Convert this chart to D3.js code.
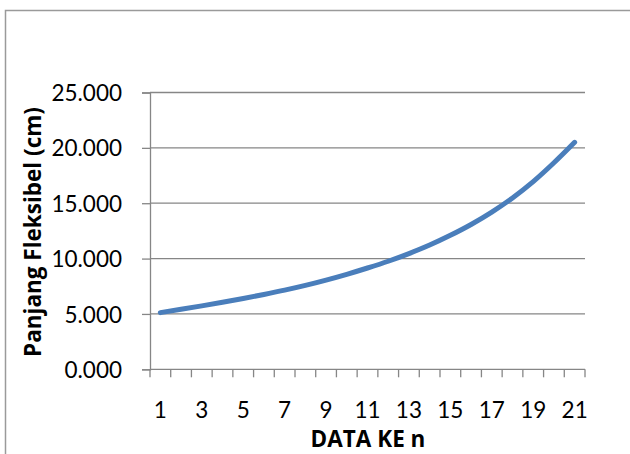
<!DOCTYPE html>
<html>
<head>
<meta charset="utf-8">
<script src="https://cdn.jsdelivr.net/npm/d3@7"></script>
<style>
  html, body { margin: 0; padding: 0; background: #fff; }
  svg { display: block; }
  text { font-family: Lato, "Open Sans", sans-serif; fill: #000; }
  .title { font-family: "Open Sans", Lato, sans-serif; font-weight: bold; font-size: 22.5px; }
</style>
</head>
<body>
<svg id="chart" width="630" height="454"></svg>
<script>
// Measurement index (DATA KE n)
const dataIndex = [1, 2, 3, 4, 5, 6, 7, 8, 9, 10, 11, 12, 13, 14, 15, 16, 17, 18, 19, 20, 21];
// Flexible length in cm for each measurement
const panjang = [5.12, 5.42, 5.73, 6.05, 6.39, 6.76, 7.15, 7.58, 8.06, 8.58, 9.15,
                 9.76, 10.45, 11.22, 12.1, 13.08, 14.2, 15.48, 16.95, 18.65, 20.5];
// Axis ticks
const yTicks = [0, 5, 10, 15, 20, 25];
const xTickLabels = [1, 3, 5, 7, 9, 11, 13, 15, 17, 19, 21];

const svg = d3.select("#chart");
const axisColor = "#868686";
const tickFont = "22.5px";

// Outer chart frame
svg.append("rect")
  .attr("x", 5.5).attr("y", 10.5)
  .attr("width", 640).attr("height", 460)
  .attr("fill", "none")
  .attr("stroke", "#9a9a9a")
  .attr("stroke-width", 1.5);

const plot = { left: 150, right: 585, top: 92.5, bottom: 369.3 };

const x = d3.scaleBand()
  .domain(dataIndex)
  .range([plot.left, plot.right])
  .paddingInner(0).paddingOuter(0);

const y = d3.scaleLinear()
  .domain([0, 25])
  .range([plot.bottom, plot.top]);

// Horizontal gridlines
svg.append("g")
  .selectAll("line")
  .data(yTicks.filter(d => d > 0))
  .join("line")
  .attr("x1", plot.left).attr("x2", plot.right)
  .attr("y1", d => y(d)).attr("y2", d => y(d))
  .attr("stroke", axisColor).attr("stroke-width", 1.3);

// Y axis
const yAxis = svg.append("g")
  .attr("transform", `translate(${plot.left},0)`)
  .call(d3.axisLeft(y).tickValues(yTicks).tickSize(8).tickPadding(20)
    .tickFormat(d => d3.format(".3f")(d)));
yAxis.select(".domain").attr("stroke", axisColor).attr("stroke-width", 1.3);
yAxis.selectAll(".tick line").attr("stroke", axisColor).attr("stroke-width", 1.3);
yAxis.selectAll(".tick text")
  .attr("font-family", null)
  .attr("font-size", null)
  .style("font-size", tickFont)
  .attr("dy", "0.36em");

// X axis: ticks on category boundaries, labels on odd categories
const xg = svg.append("g");
xg.append("line")
  .attr("x1", plot.left).attr("x2", plot.right)
  .attr("y1", plot.bottom).attr("y2", plot.bottom)
  .attr("stroke", axisColor).attr("stroke-width", 1.3);
const boundaries = dataIndex.map(d => x(d)).concat([x(dataIndex[dataIndex.length - 1]) + x.bandwidth()]);
xg.selectAll("line.tick")
  .data(boundaries)
  .join("line")
  .attr("class", "tick")
  .attr("x1", d => d).attr("x2", d => d)
  .attr("y1", plot.bottom).attr("y2", plot.bottom + 8)
  .attr("stroke", axisColor).attr("stroke-width", 1.3);
xg.selectAll("text")
  .data(xTickLabels)
  .join("text")
  .attr("x", d => x(d) + x.bandwidth() / 2)
  .attr("y", 418)
  .attr("text-anchor", "middle")
  .style("font-size", tickFont)
  .text(d => d);

// Data line
const line = d3.line()
  .x((d, i) => x(dataIndex[i]) + x.bandwidth() / 2)
  .y(d => y(d))
  .curve(d3.curveMonotoneX);

svg.append("path")
  .datum(panjang)
  .attr("d", line)
  .attr("fill", "none")
  .attr("stroke", "#4A7EBB")
  .attr("stroke-width", 5)
  .attr("stroke-linecap", "round")
  .attr("stroke-linejoin", "round");

// Axis titles
svg.append("text")
  .attr("class", "title")
  .attr("transform", `translate(41, 232) rotate(-90)`)
  .attr("text-anchor", "middle")
  .text("Panjang Fleksibel (cm)");

svg.append("text")
  .attr("class", "title")
  .attr("x", 368).attr("y", 447)
  .attr("text-anchor", "middle")
  .text("DATA KE n");
</script>
</body>
</html>
